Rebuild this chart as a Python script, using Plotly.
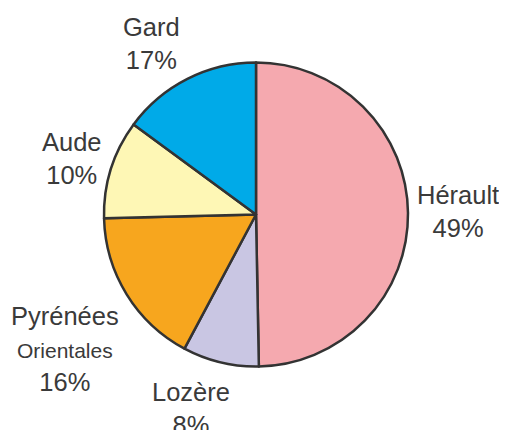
import plotly.graph_objects as go

# slices, clockwise from 12 o'clock
departements = ["Hérault", "Lozère", "Pyrénées Orientales", "Aude", "Gard"]
parts = [49.7, 8.1, 16.8, 10.5, 14.9]          # angles
pourcentages = ["49%", "8%", "16%", "10%", "17%"]  # printed labels
couleurs = ["#F5A9AF", "#C9C6E3", "#F7A61E", "#FEF7B5", "#00AAE8"]

OFF = 8  # the page body adds an 8px margin around the figure
W, H = 507 - OFF, 430 - OFF
cx, cy, r = 256 - OFF, 214.5 - OFF, 152

fig = go.Figure()
fig.add_trace(go.Pie(
    labels=departements,
    values=parts,
    sort=False,
    direction="clockwise",
    rotation=0,
    textinfo="none",
    hoverinfo="label+percent",
    marker=dict(colors=couleurs, line=dict(color="#333333", width=2.5)),
    domain=dict(x=[(cx - r) / W, (cx + r) / W], y=[1 - (cy + r) / H, 1 - (cy - r) / H]),
))

# centre (px, in the screenshot) of each label block
positions = {
    "Hérault": (458, 211),
    "Lozère": (191, 408),
    "Pyrénées Orientales": (65, 349),
    "Aude": (72, 158),
    "Gard": (151, 43),
}

for nom, pct in zip(departements, pourcentages):
    x, y = positions[nom]
    if nom == "Pyrénées Orientales":
        texte = "Pyrénées<br><span style='font-size:21px'>Orientales</span><br>" + pct
    else:
        texte = nom + "<br>" + pct
    fig.add_annotation(
        x=(x - OFF) / W, y=1 - (y - OFF) / H, xref="paper", yref="paper",
        text=texte, showarrow=False, xanchor="center", yanchor="middle",
        font=dict(size=25.5, color="#3a3a3a", family="Liberation Sans, Arial, sans-serif"),
    )

fig.update_layout(
    width=W, height=H,
    showlegend=False,
    margin=dict(l=0, r=0, t=0, b=0),
    paper_bgcolor="white",
    plot_bgcolor="white",
)

fig.write_html("out.html")
